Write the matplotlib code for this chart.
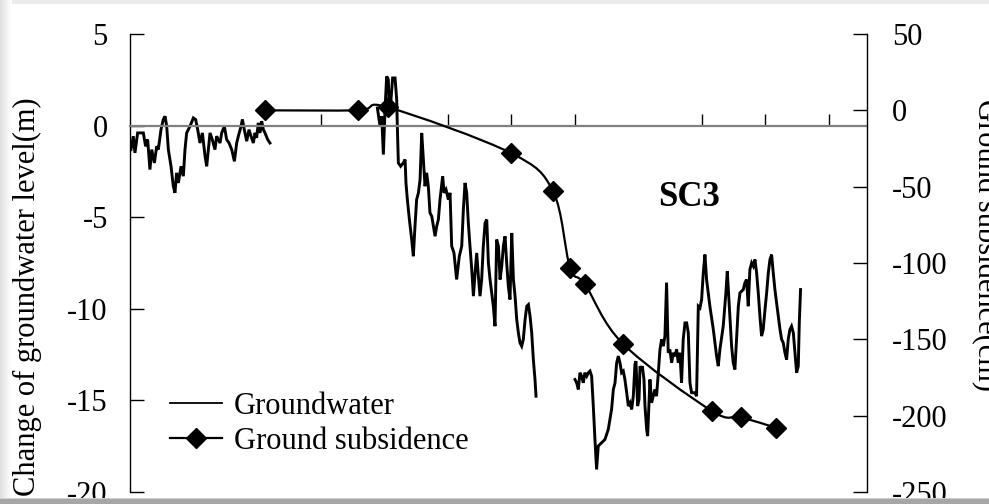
import matplotlib
matplotlib.use('Agg')
import matplotlib.pyplot as plt
from matplotlib.path import Path
from matplotlib.patches import PathPatch, Rectangle
from matplotlib.lines import Line2D
import numpy as np

plt.rcParams['font.family'] = ['Liberation Serif', 'DejaVu Serif']
plt.rcParams['font.size'] = 22
plt.rcParams['axes.unicode_minus'] = False

# groundwater level change (m), three pieces of record with gaps
gw1_year = [1950.08, 1950.26, 1950.39, 1950.60, 1950.79, 1951.05, 1951.23, 1951.39, 1951.57, 1951.71,
            1951.92, 1952.10, 1952.23, 1952.44, 1952.62, 1952.76, 1952.89, 1953.02, 1953.23, 1953.41,
            1953.54, 1953.67, 1953.81, 1954.02, 1954.20, 1954.33, 1954.46, 1954.72, 1954.99, 1955.17,
            1955.33, 1955.51, 1955.70, 1955.91, 1956.04, 1956.17, 1956.30, 1956.48, 1956.69, 1956.82,
            1957.09, 1957.22, 1957.43, 1957.61, 1957.80, 1958.01, 1958.22, 1958.40, 1958.53, 1958.74,
            1958.85, 1959.00, 1959.19, 1959.37, 1959.53, 1959.71, 1959.84, 1959.97, 1960.10, 1960.24,
            1960.37, 1960.50, 1960.63, 1960.84, 1961.02]
gw1_level = [-1.31, -0.58, -1.49, -0.40, -0.40, -0.40, -1.13, -0.76, -2.40, -1.31,
             -2.04, -1.13, -1.31, -0.22, 0.33, 0.51, -0.04, -1.31, -2.22, -3.31,
             -3.67, -2.58, -3.13, -2.22, -2.76, -1.31, -0.40, -0.04, 0.42, 0.33,
             -0.22, -0.95, -0.40, -1.67, -2.22, -1.31, -0.40, -0.76, -1.31, -0.58,
             -0.95, -0.40, -0.04, -0.76, -0.95, -1.31, -1.95, -0.95, -0.58, -0.04,
             0.33, -0.22, -0.85, -0.22, -0.58, -0.95, -0.40, -0.67, 0.15, -0.40,
             0.24, -0.22, -0.40, -0.76, -0.95]

gw2_year = [1969.48, 1969.69, 1969.82, 1969.95, 1970.08, 1970.21, 1970.34, 1970.42, 1970.53, 1970.68,
            1970.87, 1971.00, 1971.05, 1971.13, 1971.31, 1971.52, 1971.66, 1971.73, 1971.84, 1972.00,
            1972.18, 1972.31, 1972.44, 1972.57, 1972.71, 1972.84, 1972.97, 1973.10, 1973.23, 1973.36,
            1973.49, 1973.62, 1973.76, 1973.89, 1974.02, 1974.15, 1974.28, 1974.41, 1974.62, 1974.73,
            1974.88, 1975.07,
            1975.20, 1975.33, 1975.51, 1975.72, 1975.93, 1976.12, 1976.25, 1976.38, 1976.51, 1976.64,
            1976.77, 1976.91, 1977.04, 1977.17, 1977.30, 1977.43, 1977.56, 1977.69, 1977.82, 1977.96,
            1978.09, 1978.22, 1978.35, 1978.48, 1978.61, 1978.74, 1978.87, 1979.01, 1979.14, 1979.27,
            1979.40, 1979.53, 1979.66, 1979.79, 1979.92, 1980.06, 1980.19, 1980.32, 1980.45, 1980.58,
            1980.71, 1980.84, 1980.97, 1981.11, 1981.24, 1981.37, 1981.50, 1981.63, 1981.76, 1981.89,
            1981.97]
gw2_level = [0.96, -0.04, 0.51, -1.58, 0.87, 2.69, 2.51, 0.87, 1.24, 2.60,
             2.60, 1.42, -0.04, -2.04, -2.22, -2.04, -1.85, -3.13, -4.04, -5.13,
             -6.22, -7.13, -5.49, -4.04, -3.67, -2.95, -0.40, -1.85, -3.31, -2.58,
             -3.31, -4.76, -4.95, -5.49, -6.04, -5.49, -5.13, -4.04, -2.76, -3.67,
             -3.49, -4.04,
             -3.67, -6.58, -6.95, -8.40, -7.13, -6.58, -4.58, -3.13, -3.67, -5.31,
             -6.58, -7.86, -9.31, -8.04, -6.95, -8.22, -9.31, -8.40, -6.58, -5.31,
             -5.13, -7.49, -8.40, -9.13, -9.86, -10.95, -6.22, -6.58, -8.40, -7.67,
             -6.58, -6.04, -7.49, -8.77, -9.49, -5.86, -8.40, -9.31, -10.58, -11.31,
             -11.86, -12.04, -11.67, -10.58, -9.86, -9.77, -10.40, -11.31, -12.77, -13.86,
             -14.77]

gw3_year = [1985.04, 1985.17, 1985.30, 1985.43, 1985.56, 1985.69, 1985.82, 1985.96, 1986.09, 1986.22,
            1986.35, 1986.48, 1986.61, 1986.74, 1986.87, 1987.14, 1987.40, 1987.66, 1987.92, 1988.06,
            1988.19, 1988.32, 1988.45, 1988.58, 1988.71, 1988.84, 1988.97, 1989.11, 1989.24, 1989.37,
            1989.50, 1989.63, 1989.76, 1989.84, 1989.97, 1990.08, 1990.16, 1990.29, 1990.34, 1990.47,
            1990.55, 1990.68, 1990.76, 1990.86,
            1990.94, 1991.07, 1991.20, 1991.33, 1991.46, 1991.60, 1991.73, 1991.86, 1991.99, 1992.12,
            1992.25, 1992.38, 1992.51, 1992.65, 1992.78, 1992.91, 1993.04, 1993.17, 1993.30, 1993.43,
            1993.56, 1993.70, 1993.83, 1993.96, 1994.09, 1994.22, 1994.35, 1994.48, 1994.61, 1994.75,
            1994.88, 1995.01, 1995.14, 1995.27, 1995.40, 1995.53, 1995.66,
            1995.93, 1996.19, 1996.32, 1996.45, 1996.71, 1996.92, 1997.03, 1997.19, 1997.37, 1997.50,
            1997.63, 1997.76, 1997.90, 1998.03,
            1998.29, 1998.42, 1998.55, 1998.68, 1998.81, 1998.95, 1999.08, 1999.21, 1999.34, 1999.47,
            1999.60, 1999.73, 1999.86, 2000.00, 2000.13, 2000.26, 2000.39, 2000.52, 2000.65, 2000.78,
            2000.91, 2001.05, 2001.18, 2001.31, 2001.44, 2001.57, 2001.70, 2001.83, 2001.96, 2002.09,
            2002.23, 2002.36, 2002.49, 2002.62, 2002.70, 2002.80]
gw3_level = [-13.86, -14.04, -14.40, -13.49, -13.68, -14.04, -13.49, -13.68, -13.49, -13.40,
             -13.68, -15.31, -17.13, -18.77, -17.49, -17.31, -17.13, -16.58, -15.49, -14.40,
             -14.04, -12.95, -12.58, -12.95, -13.49, -13.40, -13.86, -14.58, -15.31, -15.13,
             -15.49, -14.77, -13.04, -12.86, -15.31, -14.95, -13.13, -13.31, -13.13, -13.86,
             -15.31, -16.58, -16.95, -15.31,
             -13.86, -15.13, -14.77, -14.40, -14.77, -13.49, -12.22, -11.67, -12.04, -11.49,
             -8.58, -12.40, -12.22, -12.95, -12.40, -12.59, -12.22, -12.95, -12.40, -14.04,
             -11.67, -10.77, -10.77, -11.31, -14.04, -14.58, -14.58, -14.58, -14.77, -9.86,
             -9.95, -9.49, -8.04, -7.04, -8.40, -9.13, -9.86,
             -11.13, -12.59, -13.13, -12.22, -10.95, -9.13, -7.95, -9.86, -12.04, -12.95,
             -13.31, -11.67, -9.86, -9.13,
             -8.95, -8.58, -8.40, -9.86, -7.86, -7.49, -7.67, -7.31, -8.04, -9.13,
             -10.40, -11.49, -11.13, -10.04, -9.13, -8.04, -7.31, -7.04, -8.04, -8.95,
             -9.67, -10.40, -11.13, -11.67, -11.86, -12.40, -12.77, -11.67, -11.13, -10.95,
             -11.31, -12.40, -13.49, -13.13, -10.77, -8.95]

# ground subsidence (cm)
sub_year = [1960.63, 1967.95, 1970.31, 1980.00, 1983.31, 1984.65, 1985.83, 1988.82, 1995.83, 1998.11, 2000.87]
sub_cm = [0, 0, 2, -28, -53, -103, -114, -153, -197, -201, -208]

xtick_years = [1965, 1975, 1980, 1985, 1995, 2000, 2005]


def smooth_path(x, y):
    # Excel-style smoothed line (Catmull-Rom as cubic Bezier)
    p = np.column_stack([x, y]).astype(float)
    n = len(p)
    verts = [p[0]]
    codes = [Path.MOVETO]
    for i in range(n - 1):
        p0 = p[max(i - 1, 0)]
        p1 = p[i]
        p2 = p[i + 1]
        p3 = p[min(i + 2, n - 1)]
        verts += [p1 + (p2 - p0) / 6, p2 - (p3 - p1) / 6, p2]
        codes += [Path.CURVE4] * 3
    return Path(verts, codes)


W, H = 989, 504
fig = plt.figure(figsize=(W / 100, H / 100), dpi=100)
ax = fig.add_axes([130 / W, 12 / H, 737 / W, 458 / H])

for yr, lv in [(gw1_year, gw1_level), (gw2_year, gw2_level), (gw3_year, gw3_level)]:
    ax.plot(yr, lv, color='black', lw=2.1, solid_joinstyle='miter')

ax.set_xlim(1950, 1950 + 737 / 12.7)
ax.set_ylim(-20, 5)
ax.set_yticks(range(-20, 6, 5))
ax.set_xticks(xtick_years)
ax.spines['top'].set_visible(False)
ax.spines['right'].set_visible(False)
ax.spines['bottom'].set_position(('data', 0))
ax.spines['bottom'].set_color('#808080')
ax.spines['bottom'].set_linewidth(1.6)
ax.spines['left'].set_linewidth(1.0)
ax.tick_params(axis='x', direction='in', length=9, width=1.0, color='black', labelbottom=False)
ax.tick_params(axis='y', direction='in', length=10, width=1.0, pad=16, labelsize=22)

ax2 = ax.twinx()
ax2.add_patch(PathPatch(smooth_path(sub_year, sub_cm), facecolor='none', edgecolor='black', lw=1.6))
ax2.plot(sub_year, sub_cm, linestyle='none', marker='D', ms=10, color='black')
ax2.set_ylim(-250, 50)
ax2.set_yticks(range(-250, 51, 50))
for s in ['top', 'left', 'bottom']:
    ax2.spines[s].set_visible(False)
ax2.spines['right'].set_linewidth(1.0)
ax2.tick_params(axis='y', direction='in', length=10, width=1.0, pad=18, labelsize=22)

ax2.text(0.758, 0.644, 'SC3', transform=ax.transAxes, fontsize=25, fontweight='bold',
         ha='center', va='center')

handles = [Line2D([], [], color='black', lw=1.3),
           Line2D([], [], color='black', lw=1.6, marker='D', ms=10)]
ax2.legend(handles, ['Groundwater', 'Ground subsidence'], loc='lower left',
           bbox_to_anchor=(170 / W, 1 - 456 / H), bbox_transform=fig.transFigure,
           frameon=False, fontsize=22, handlelength=1.7, handletextpad=0.4,
           labelspacing=0.2, borderpad=0, borderaxespad=0)

fig.text(27 / W, 1 - 297 / H, 'Change of groundwater level(m)', rotation=90,
         ha='center', va='center', fontsize=22)
fig.text(985 / W, 1 - 245 / H, 'Ground subsidence(cm)', rotation=270,
         ha='center', va='center', fontsize=22)

# scan borders
fig.add_artist(Rectangle((0, 1 - 4 / H), 1, 4 / H, transform=fig.transFigure,
                         color='#ebebeb', lw=0, zorder=10))
for i in range(12):
    g = 0.88 + 0.12 * i / 11
    fig.add_artist(Rectangle((i / W, 0), 1 / W, 1, transform=fig.transFigure,
                             color=(g, g, g), lw=0, zorder=10))
fig.add_artist(Rectangle((0, 0), 1, 5 / H, transform=fig.transFigure,
                         color='#a6a6a6', lw=0, zorder=11))
fig.add_artist(Rectangle((0, 5 / H), 1, 1 / H, transform=fig.transFigure,
                         color='#d0d0d0', lw=0, zorder=11))

fig.savefig('out.png', dpi=100)
